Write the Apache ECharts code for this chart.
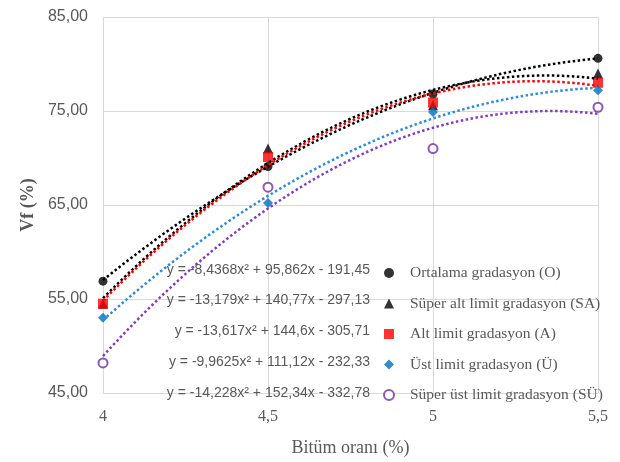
<!DOCTYPE html>
<html>
<head>
    <meta charset="utf-8">
    <title>Vf - Bitüm oranı</title>
    <script src="https://cdn.jsdelivr.net/npm/echarts@6/dist/echarts.min.js"></script>
    <style>
      body{margin:0;background:#fff}
      #main{width:620px;height:462px}
    </style>
</head>
<body>
    <div id="main"></div>
    <script type="text/javascript">

// Bitüm oranı (%)
let xValues = [4, 4.5, 5, 5.5]

// Vf (%) for each gradasyon
let names = [
  'Ortalama gradasyon (O)',
  'Süper alt limit gradasyon (SA)',
  'Alt limit gradasyon (A)',
  'Üst limit gradasyon (Ü)',
  'Süper üst limit gradasyon (SÜ)'
]
let vfO  = [56.9, 69.1, 76.8, 80.6]
let vfSA = [54.5, 71.0, 75.6, 79.0]
let vfA  = [54.5, 70.1, 75.9, 78.0]
let vfU  = [53.0, 65.2, 74.9, 77.2]
let vfSU = [48.2, 66.9, 71.0, 75.4]

// polynomial trendline coefficients: y = a x² + b x + c
let coefO  = [-8.4368, 95.862, -191.45]
let coefSA = [-13.179, 140.77, -297.13]
let coefA  = [-13.617, 144.6, -305.71]
let coefU  = [-9.9625, 111.12, -232.33]
let coefSU = [-14.228, 152.34, -332.78]

let yTicks = [45, 55, 65, 75, 85]

let allVf = [vfO, vfSA, vfA, vfU, vfSU]
let allCoef = [coefO, coefSA, coefA, coefU, coefSU]

let markerColors = ['#000000', '#000000', '#ff0000', '#0070c0', '#7030a0']
let lineColors = ['#000000', '#000000', '#ff0000', '#2e8bd8', '#7f3fbf']
let symbols = ['circle', 'triangle', 'rect', 'diamond', 'emptyCircle']
let symbolSizes = [9, 10, 10, 10, 9]

const comma = v => String(v).replace('.', ',')

// trendline drawn from the equation shown next to each legend item
function trend(coef){
  let pts = []
  for (let i = 0; i <= 60; i++) {
    let x = xValues[0] + i * (xValues[3] - xValues[0]) / 60
    pts.push([x, coef[0] * x * x + coef[1] * x + coef[2]])
  }
  return pts
}

function equation(coef){
  return 'y = ' + comma(coef[0]) + 'x\u00b2 + ' + comma(coef[1]) + 'x - ' + comma(-coef[2])
}

let series = []
allVf.forEach((vals, i) => {
  series.push({
    name: names[i],
    type: 'scatter',
    data: vals.map((v, k) => [xValues[k], v]),
    symbol: symbols[i],
    symbolSize: symbolSizes[i],
    z: 2,
    itemStyle: i === 4
      ? { color: '#7030a0', borderColor: '#7030a0', borderWidth: 1.5 }
      : { color: markerColors[i] }
  })
})
allCoef.forEach((coef, i) => {
  series.push({
    name: names[i] + ' trend',
    type: 'line',
    data: trend(coef),
    showSymbol: false,
    silent: true,
    z: 3,
    lineStyle: { color: lineColors[i], width: 2.5, type: [2.5, 2.5] }
  })
})

let eqRowsY = [271, 301, 332, 363, 394]

var option = {
    animation: false,
    grid: { left: 103, right: 22, top: 17, bottom: 64 },
    xAxis: {
        type: 'value',
        min: 4, max: 5.5, interval: 0.5,
        name: 'Bitüm oranı (%)',
        nameLocation: 'middle',
        nameGap: 46,
        nameTextStyle: { fontFamily: 'Liberation Serif', fontSize: 18, color: '#595959' },
        axisLine: { show: true, lineStyle: { color: '#d9d9d9' } },
        axisTick: { show: false },
        axisLabel: {
            margin: 16,
            fontFamily: 'Liberation Serif', fontSize: 16, color: '#595959',
            formatter: v => comma(v)
        },
        splitLine: { show: true, lineStyle: { color: '#d9d9d9', width: 1 } }
    },
    yAxis: {
        type: 'value',
        min: yTicks[0], max: yTicks[yTicks.length - 1], interval: 10,
        name: 'Vf (%)',
        nameLocation: 'middle',
        nameGap: 66,
        nameTextStyle: { fontFamily: 'Liberation Serif', fontSize: 18, color: '#595959', fontWeight: 'bold' },
        axisLine: { show: false },
        axisTick: { show: false },
        axisLabel: {
            margin: 15,
            fontFamily: 'Liberation Sans', fontSize: 16, color: '#595959',
            formatter: v => v.toFixed(2).replace('.', ',')
        },
        splitLine: { lineStyle: { color: '#d9d9d9', width: 1 } }
    },
    legend: {
        data: names,
        orient: 'vertical',
        left: 378, top: 260,
        itemWidth: 10, itemHeight: 10,
        itemGap: 14.5,
        formatter: n => '{t|' + n + '}',
        textStyle: {
            fontFamily: 'Liberation Serif', fontSize: 15.5, color: '#595959',
            rich: { t: { fontFamily: 'Liberation Serif', fontSize: 15.5, color: '#595959', padding: [0, 0, 0, 11] } }
        }
    },
    graphic: allCoef.map((coef, i) => ({
        type: 'text',
        right: 620 - 370,
        top: eqRowsY[i] - 8,
        style: {
            text: equation(coef),
            font: '14px "Liberation Sans Narrow", "Liberation Sans"',
            fill: '#595959',
            align: 'right'
        },
        z: 10
    })),
    series: series
}

echarts.init(document.getElementById('main')).setOption(option)

    </script>
</body>
</html>
